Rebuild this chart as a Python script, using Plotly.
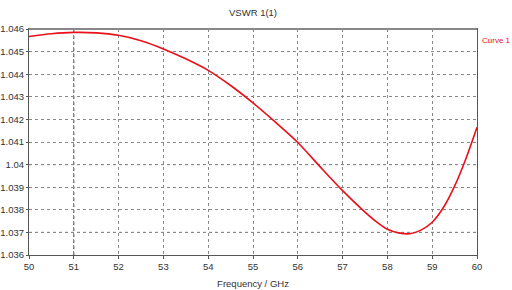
import plotly.graph_objects as go

freq = [50, 50.5, 51, 51.5, 52, 52.5, 53, 53.5, 54, 54.5, 55, 55.5, 56, 56.5, 57, 57.5, 57.75, 58, 58.25, 58.5,
        58.75, 59, 59.25, 59.5, 59.75, 60]
vswr = [1.04567, 1.04579, 1.04585, 1.04583, 1.04572, 1.04548, 1.04512, 1.04468, 1.04417, 1.04350, 1.04273,
        1.04188, 1.04098, 1.03990, 1.03885, 1.03790, 1.03748, 1.03714, 1.03698, 1.03694, 1.03710, 1.03745,
        1.03810, 1.03905, 1.04025, 1.04165]
xticks = list(range(50, 61))
yticks = [1.036, 1.037, 1.038, 1.039, 1.04, 1.041, 1.042, 1.043, 1.044, 1.045, 1.046]
ytext = ["1.036", "1.037", "1.038", "1.039", "1.04", "1.041", "1.042", "1.043", "1.044", "1.045", "1.046"]

FAM = "Liberation Sans, Arial, sans-serif"
fig = go.Figure()
fig.add_trace(go.Scatter(x=freq, y=vswr, mode="lines", line=dict(color="#e8101a", width=1.6, shape="spline",
                                                                  smoothing=0.8),
                         showlegend=False))

# darker marker gridlines
for xv in [51]:
    fig.add_shape(type="line", xref="x", yref="paper", x0=xv, x1=xv, y0=0, y1=1,
                  line=dict(color="#333333", width=1, dash="dot"), layer="below")
for yv in [1.037, 1.04]:
    fig.add_shape(type="line", xref="paper", yref="y", x0=0, x1=1, y0=yv, y1=yv,
                  line=dict(color="#333333", width=1, dash="dot"), layer="below")
fig.add_shape(type="line", xref="paper", yref="paper", x0=0, x1=1, y0=1, y1=1,
              line=dict(color="#888888", width=2))

font = dict(family=FAM, size=9.5, color="#333333")
fig.update_layout(
    width=512, height=290,
    margin=dict(l=29, r=35, t=29, b=35),
    paper_bgcolor="white", plot_bgcolor="white",
    font=font,
    xaxis=dict(range=[50, 60], tickvals=xticks, showgrid=True, gridcolor="#888888", griddash="dot",
               gridwidth=1, showline=True, linecolor="#555555", mirror=True, ticks="outside",
               ticklen=3, tickcolor="#555555", zeroline=False, automargin=False,
               title=dict(text="Frequency / GHz", standoff=8, font=font)),
    yaxis=dict(range=[1.036, 1.046], tickvals=yticks, ticktext=ytext, showgrid=True, gridcolor="#888888",
               griddash="dot", gridwidth=1, showline=True, linecolor="#555555", mirror=True,
               ticks="outside", ticklen=2, tickcolor="#555555", zeroline=False, automargin=False),
    annotations=[
        dict(text="VSWR 1(1)", xref="paper", yref="paper", x=0.5, y=1, yshift=17, xanchor="center",
             yanchor="middle", showarrow=False, font=dict(family=FAM, size=9.5, color="#333333")),
        dict(text="Curve 1", xref="paper", yref="paper", x=1.0, y=1, yshift=-11, xanchor="left",
             yanchor="middle", xshift=3,
             showarrow=False, font=dict(family=FAM, size=8, color="#e8101a"))],
)
fig.write_html("out.html", config={"displayModeBar": False},
               post_script="document.body.style.margin='0';document.body.style.overflow='hidden';")
